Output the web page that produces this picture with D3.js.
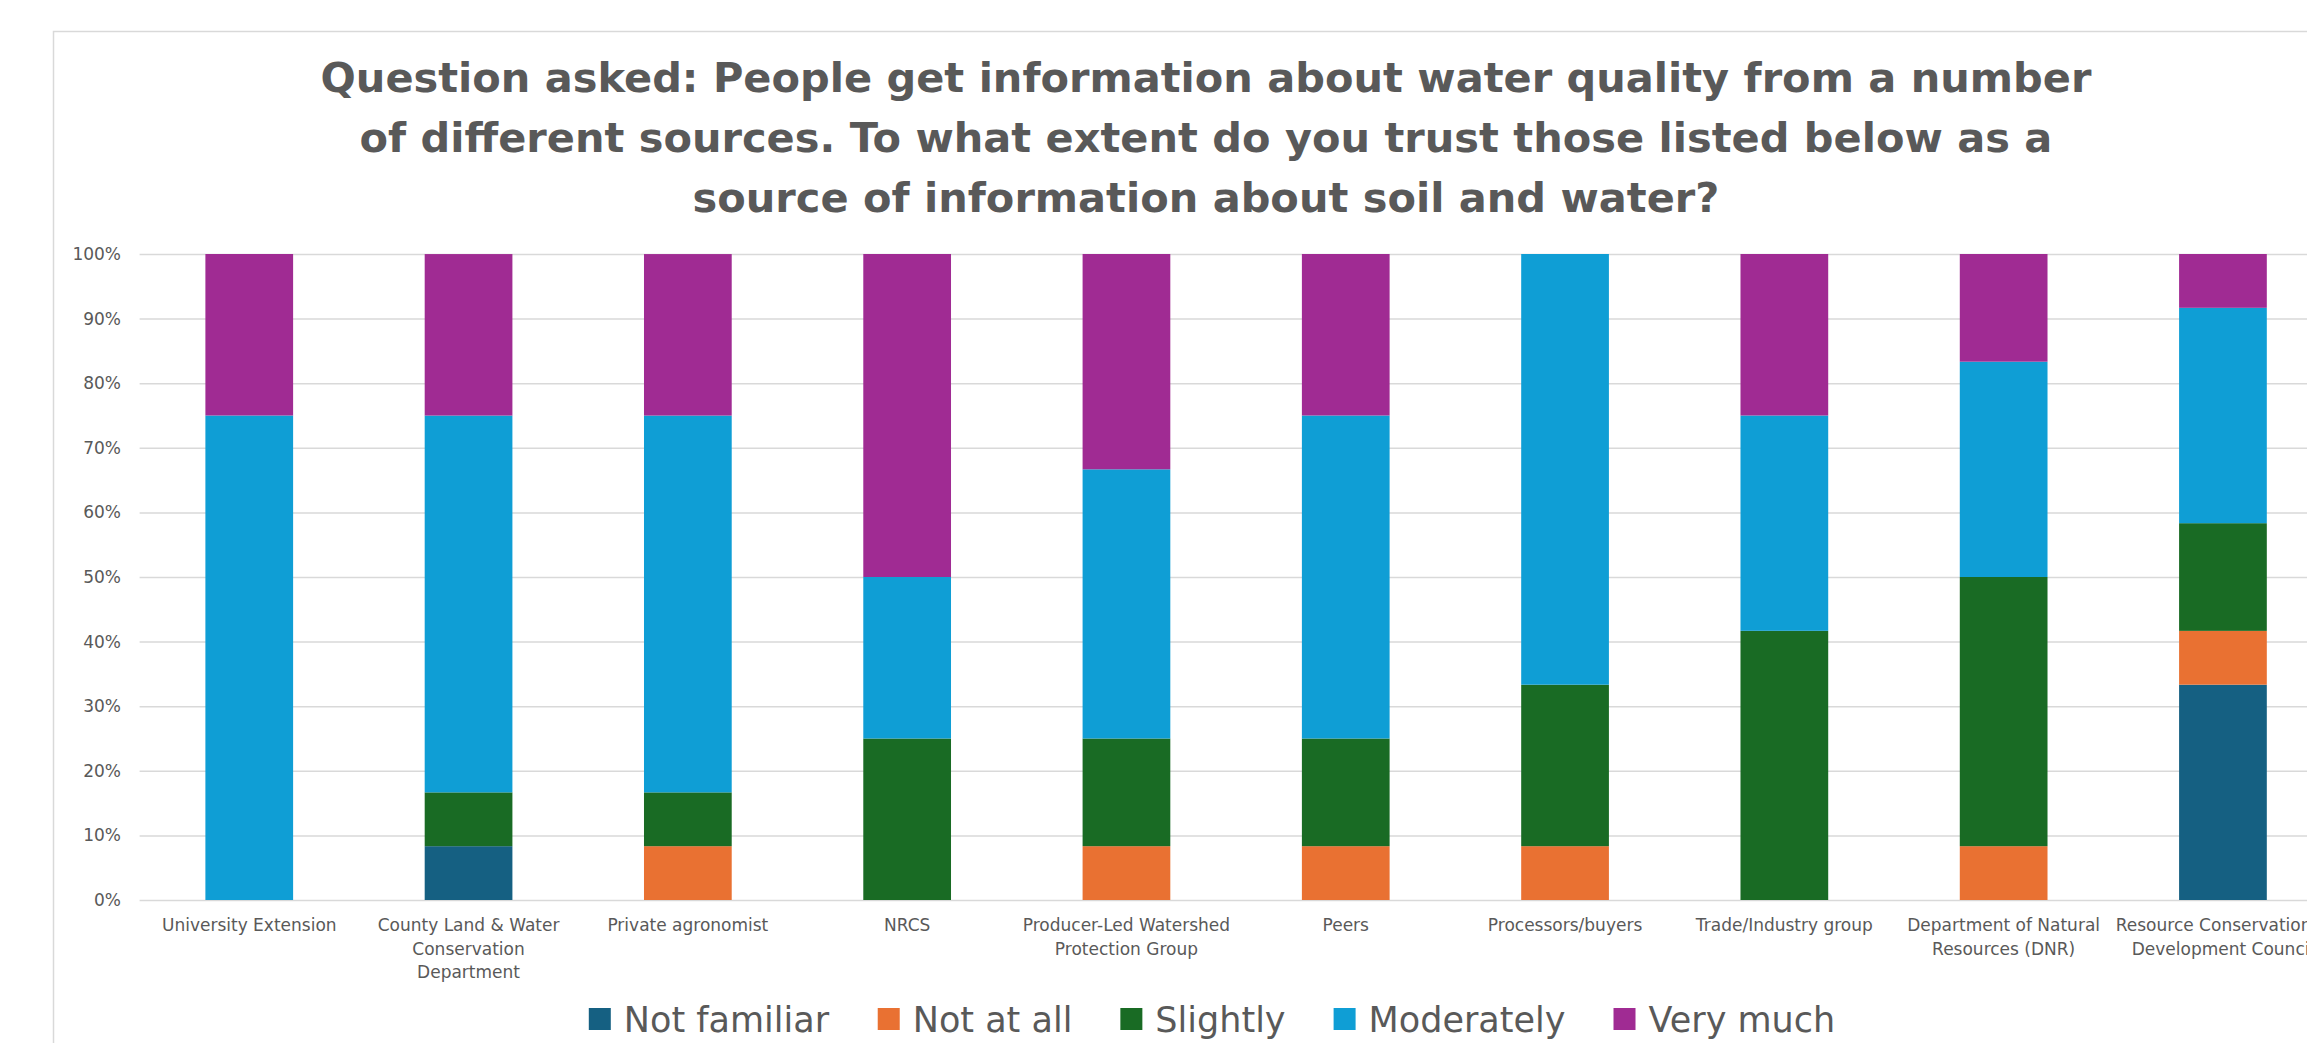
<!DOCTYPE html>
<meta charset="utf-8">
<title>trust in information sources</title>
<style>

body {
  margin: 0;
  background: #fff;
  overflow: hidden;
}

svg {
  display: block;
  font-family: "DejaVu Sans", Verdana, sans-serif;
}

.title {
  font-weight: bold;
  fill: #595959;
}

.axis text {
  fill: #595959;
}

.grid line {
  stroke: #d9d9d9;
  stroke-width: 1.5;
}

</style>
<svg width="2307" height="1043"></svg>
<script src="https://cdn.jsdelivr.net/npm/d3@7/dist/d3.min.js"></script>
<script>

var categories = [
  "University Extension",
  "County Land & Water Conservation Department",
  "Private agronomist",
  "NRCS",
  "Producer-Led Watershed Protection Group",
  "Peers",
  "Processors/buyers",
  "Trade/Industry group",
  "Department of Natural Resources (DNR)",
  "Resource Conservation & Development Council"
];

var seriesNames = ["Not familiar", "Not at all", "Slightly", "Moderately", "Very much"];
var seriesColors = ["#156082", "#e97132", "#196b24", "#0f9ed5", "#a02b93"];

// percent of respondents
var notFamiliar = [0, 8.33, 0, 0, 0, 0, 0, 0, 0, 33.33];
var notAtAll    = [0, 0, 8.33, 0, 8.33, 8.33, 8.33, 0, 8.33, 8.33];
var slightly    = [0, 8.33, 8.33, 25, 16.67, 16.67, 25, 41.67, 41.67, 16.67];
var moderately  = [75, 58.33, 58.33, 25, 41.67, 50, 66.67, 33.33, 33.33, 33.34];
var veryMuch    = [25, 25, 25, 50, 33.33, 25, 0, 25, 16.67, 8.33];

var yTicks = [0, 10, 20, 30, 40, 50, 60, 70, 80, 90, 100];

var titleLines = [
  "Question asked: People get information about water quality from a number",
  "of different sources. To what extent do you trust those listed below as a",
  "source of information about soil and water?"
];

var svg = d3.select("svg"),
    width = +svg.attr("width"),
    height = +svg.attr("height");

var plot = {left: 139.6, top: 254, bottom: 900, step: 219.3};

var rows = categories.map(function(c, i) {
  return {
    name: c,
    "Not familiar": notFamiliar[i],
    "Not at all": notAtAll[i],
    "Slightly": slightly[i],
    "Moderately": moderately[i],
    "Very much": veryMuch[i]
  };
});

var x = d3.scaleBand()
    .domain(categories)
    .range([plot.left, plot.left + plot.step * categories.length])
    .paddingInner(0.6)
    .paddingOuter(0.3);

var y = d3.scaleLinear()
    .domain([0, 100])
    .range([plot.bottom, plot.top]);

var color = d3.scaleOrdinal()
    .domain(seriesNames)
    .range(seriesColors);

// chart frame
svg.append("rect")
    .attr("x", 53.5)
    .attr("y", 31.5)
    .attr("width", 2400)
    .attr("height", 1100)
    .attr("fill", "#fff")
    .attr("stroke", "#d9d9d9")
    .attr("stroke-width", 1.5);

svg.append("g")
    .attr("class", "title")
    .selectAll("text")
    .data(titleLines)
  .enter().append("text")
    .attr("x", 1206)
    .attr("y", function(d, i) { return 92 + i * 60; })
    .attr("text-anchor", "middle")
    .style("font-size", "41.5px")
    .text(function(d) { return d; });

// gridlines
svg.append("g")
    .attr("class", "grid")
    .attr("transform", "translate(" + plot.left + ",0)")
    .call(d3.axisLeft(y).tickValues(yTicks).tickSize(-(x.range()[1] - plot.left)).tickFormat(""))
    .call(function(g) { g.select(".domain").remove(); });

var yAxis = svg.append("g")
    .attr("class", "axis")
    .attr("transform", "translate(121,0)")
    .call(d3.axisLeft(y).tickValues(yTicks).tickSize(0).tickPadding(0).tickFormat(function(d) { return d + "%"; }));

yAxis.select(".domain").remove();
yAxis.selectAll("text")
    .style("font-size", "17px")
    .style("font-family", "DejaVu Sans, sans-serif");

var stacked = d3.stack().keys(seriesNames)(rows);

svg.append("g")
    .selectAll("g")
    .data(stacked)
  .enter().append("g")
    .attr("fill", function(d) { return color(d.key); })
  .selectAll("rect")
    .data(function(d) { return d; })
  .enter().append("rect")
    .attr("x", function(d) { return x(d.data.name); })
    .attr("y", function(d) { return y(d[1]); })
    .attr("width", x.bandwidth())
    .attr("height", function(d) { return y(d[0]) - y(d[1]); });

// category labels, wrapped to the band width
var xAxis = svg.append("g")
    .attr("class", "axis")
    .attr("transform", "translate(0," + plot.bottom + ")")
    .call(d3.axisBottom(x).tickSize(0).tickPadding(0));

xAxis.select(".domain").remove();
xAxis.selectAll("text")
    .style("font-size", "17px")
    .style("font-family", "DejaVu Sans, sans-serif")
    .attr("y", 31)
    .attr("dy", 0)
    .call(wrap, x.step());

function wrap(texts, maxWidth) {
  texts.each(function() {
    var text = d3.select(this),
        words = text.text().split(/\s+/),
        line = [],
        lineNo = 0,
        yy = +text.attr("y"),
        tspan = text.text(null).append("tspan").attr("x", 0).attr("y", yy);
    words.forEach(function(w) {
      line.push(w);
      tspan.text(line.join(" "));
      if (tspan.node().getComputedTextLength() > maxWidth && line.length > 1) {
        line.pop();
        tspan.text(line.join(" "));
        line = [w];
        lineNo++;
        tspan = text.append("tspan").attr("x", 0).attr("y", yy + lineNo * 23.5).text(w);
      }
    });
  });
}

// legend, centred under the chart
var legend = svg.append("g")
    .attr("transform", "translate(0,1019)");

var item = legend.selectAll("g")
    .data(seriesNames)
  .enter().append("g");

item.append("rect")
    .attr("x", 0)
    .attr("y", -11)
    .attr("width", 22)
    .attr("height", 22)
    .attr("fill", function(d) { return color(d); });

item.append("text")
    .attr("x", 35)
    .attr("dy", "0.36em")
    .style("font-size", "35px")
    .style("fill", "#595959")
    .text(function(d) { return d; });

var widths = [];
item.each(function() { widths.push(this.getBBox().width); });
var gap = 48;
var total = d3.sum(widths) + gap * (widths.length - 1);
var pos = 1212 - total / 2;
item.attr("transform", function(d, i) {
  var t = "translate(" + pos + ",0)";
  pos += widths[i] + gap;
  return t;
});

</script>
